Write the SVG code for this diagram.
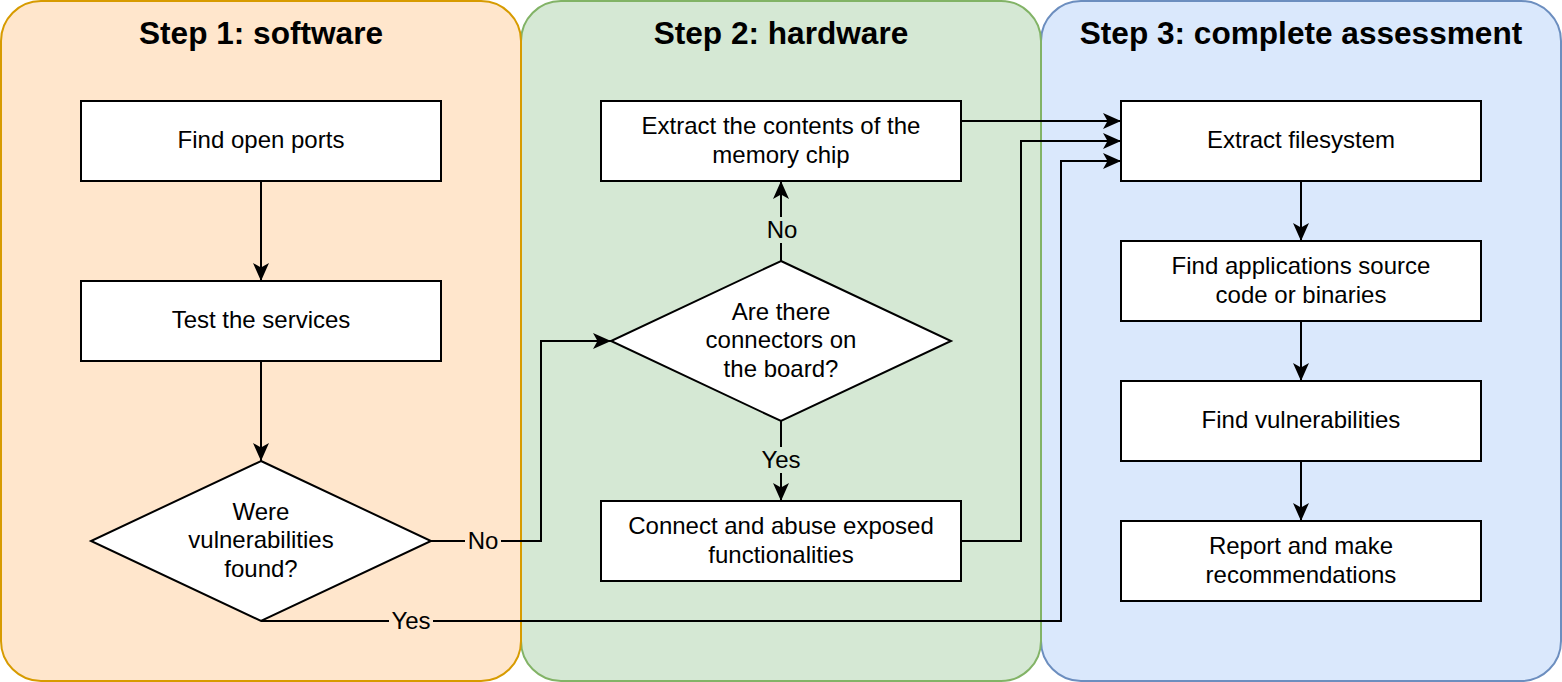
<svg xmlns="http://www.w3.org/2000/svg" width="1562" height="682" viewBox="0 0 1562 682">
<style>
.lane{stroke-width:2}
.box{fill:#ffffff;stroke:#000000;stroke-width:2}
.t{font-family:"Liberation Sans",Arial,sans-serif;font-size:24px;fill:#000000;text-anchor:middle}
.title{font-family:"Liberation Sans",Arial,sans-serif;font-size:31.6px;font-weight:bold;fill:#000000;text-anchor:middle}
.e{fill:none;stroke:#000000;stroke-width:2}
.ea{fill:none;stroke:#000000;stroke-width:2;marker-end:url(#arr)}
</style>
<defs>
<marker id="arr" markerUnits="userSpaceOnUse" viewBox="0 0 18 16" refX="18" refY="8" markerWidth="18" markerHeight="16" orient="auto">
<path d="M0,0 L18,8 L0,16 L4.5,8 Z" fill="#000000"/>
</marker>
</defs>
<g id="lane3">
<rect class="lane" x="1041" y="1" width="520" height="680" rx="40" ry="40" fill="#dae8fc" stroke="#6c8ebf"/>
<text class="title" x="1301" y="44">Step 3: complete assessment</text>
</g>
<g id="lane2">
<rect class="lane" x="521" y="1" width="520" height="680" rx="40" ry="40" fill="#d5e8d4" stroke="#82b366"/>
<text class="title" x="781" y="44">Step 2: hardware</text>
</g>
<g id="lane1">
<rect class="lane" x="1" y="1" width="520" height="680" rx="40" ry="40" fill="#ffe6cc" stroke="#d79b00"/>
<text class="title" x="261" y="44">Step 1: software</text>
</g>
<g id="connectors">
<path class="ea" d="M261,181 L261,281"/>
<path class="ea" d="M261,361 L261,461"/>
<path class="ea" d="M431,541 L541,541 L541,341 L611,341"/>
<path class="ea" d="M261,621 L1061,621 L1061,161 L1121,161"/>
<path class="ea" d="M781,261 L781,181"/>
<path class="ea" d="M781,421 L781,501"/>
<path class="ea" d="M961,121 L1121,121"/>
<path class="ea" d="M961,541 L1021,541 L1021,141 L1121,141"/>
<path class="ea" d="M1301,181 L1301,241"/>
<path class="ea" d="M1301,321 L1301,381"/>
<path class="ea" d="M1301,461 L1301,521"/>
<rect x="465" y="528" width="36" height="26" fill="#ffe6cc"/>
<text class="t" x="483" y="549">No</text>
<rect x="389" y="608" width="44" height="26" fill="#ffe6cc"/>
<text class="t" x="411" y="629">Yes</text>
<rect x="764" y="217" width="36" height="26" fill="#d5e8d4"/>
<text class="t" x="782" y="238">No</text>
<rect x="759" y="447" width="44" height="26" fill="#d5e8d4"/>
<text class="t" x="781" y="468">Yes</text>
</g>
<g id="findPorts">
<rect class="box" x="81" y="101" width="360" height="80"/>
<text class="t" x="261" y="148">Find open ports</text>
</g>
<g id="testServices">
<rect class="box" x="81" y="281" width="360" height="80"/>
<text class="t" x="261" y="328">Test the services</text>
</g>
<g id="vulnFound">
<path class="box" d="M261,461 L431,541 L261,621 L91,541 Z"/>
<text class="t" x="261" y="520">Were</text>
<text class="t" x="261" y="548">vulnerabilities</text>
<text class="t" x="261" y="577">found?</text>
</g>
<g id="extractChip">
<rect class="box" x="601" y="101" width="360" height="80"/>
<text class="t" x="781" y="134">Extract the contents of the</text>
<text class="t" x="781" y="163">memory chip</text>
</g>
<g id="connectorsQ">
<path class="box" d="M781,261 L951,341 L781,421 L611,341 Z"/>
<text class="t" x="781" y="320">Are there</text>
<text class="t" x="781" y="348">connectors on</text>
<text class="t" x="781" y="377">the board?</text>
</g>
<g id="abuse">
<rect class="box" x="601" y="501" width="360" height="80"/>
<text class="t" x="781" y="534">Connect and abuse exposed</text>
<text class="t" x="781" y="563">functionalities</text>
</g>
<g id="extractFs">
<rect class="box" x="1121" y="101" width="360" height="80"/>
<text class="t" x="1301" y="148">Extract filesystem</text>
</g>
<g id="findApps">
<rect class="box" x="1121" y="241" width="360" height="80"/>
<text class="t" x="1301" y="274">Find applications source</text>
<text class="t" x="1301" y="303">code or binaries</text>
</g>
<g id="findVulns">
<rect class="box" x="1121" y="381" width="360" height="80"/>
<text class="t" x="1301" y="428">Find vulnerabilities</text>
</g>
<g id="report">
<rect class="box" x="1121" y="521" width="360" height="80"/>
<text class="t" x="1301" y="554">Report and make</text>
<text class="t" x="1301" y="583">recommendations</text>
</g>
</svg>
